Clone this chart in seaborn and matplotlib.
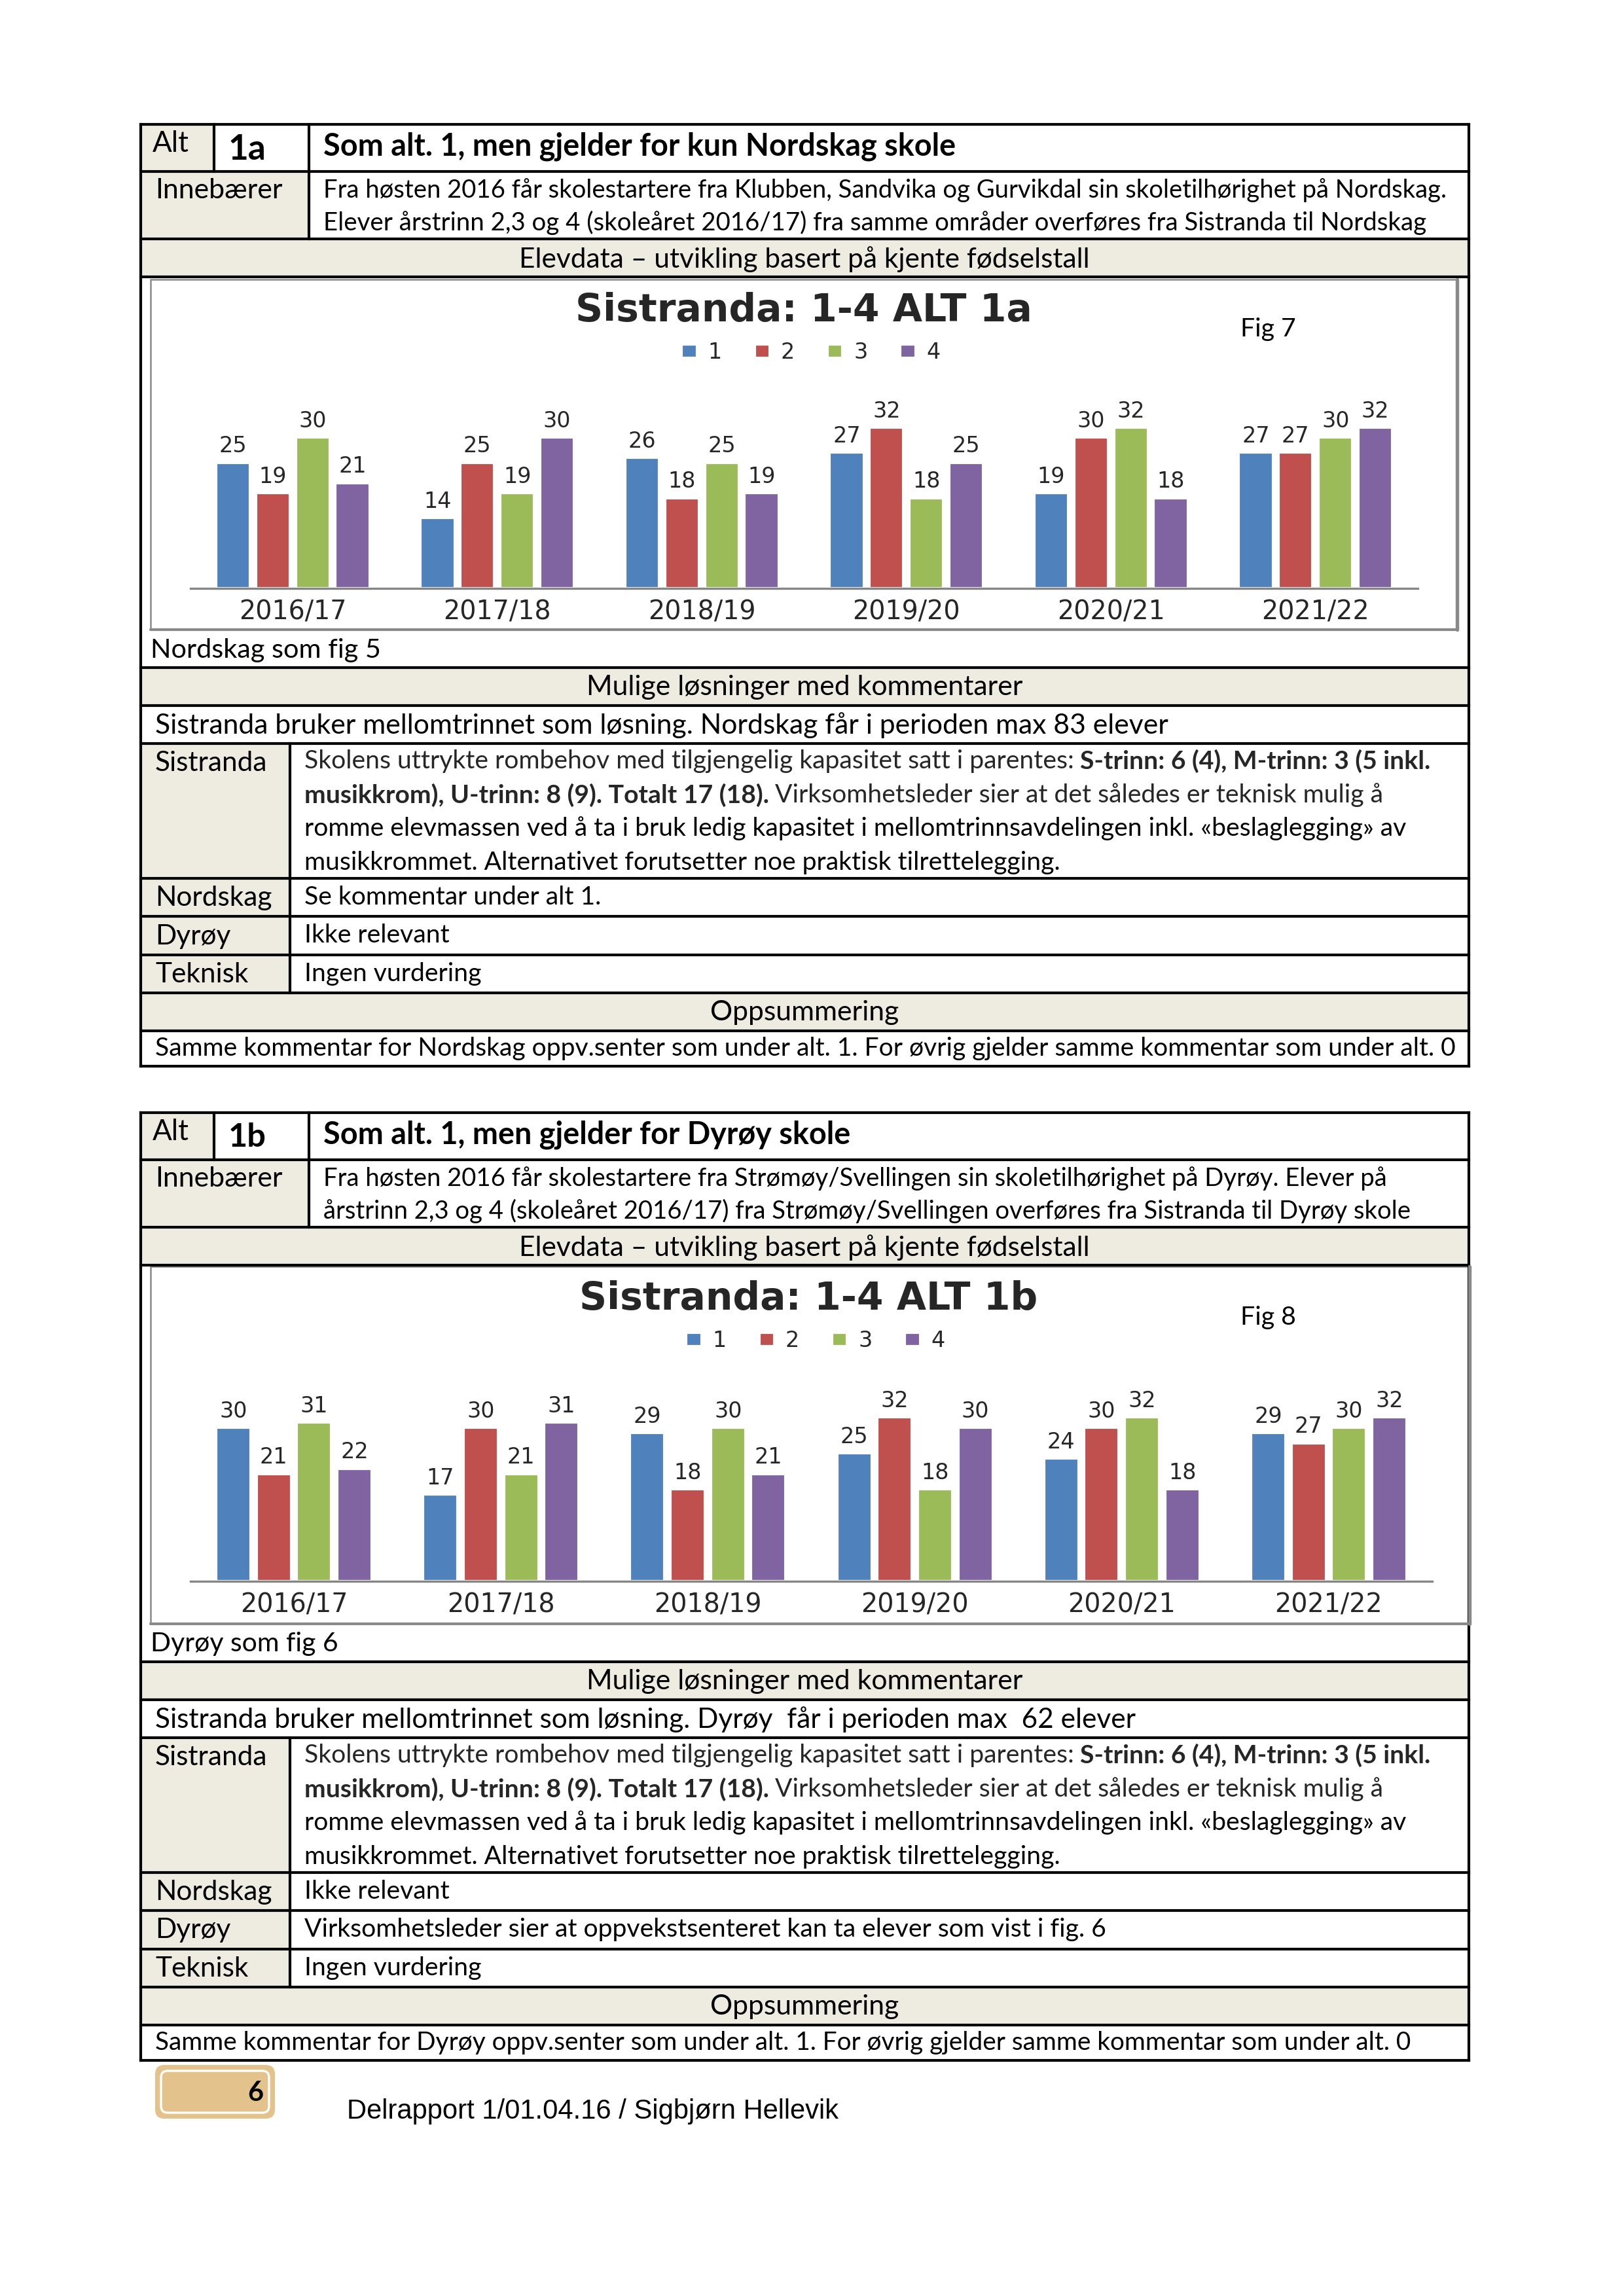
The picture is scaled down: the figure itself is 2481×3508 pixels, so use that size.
import matplotlib
matplotlib.use('Agg')
import matplotlib.pyplot as plt
from matplotlib.patches import Rectangle, FancyBboxPatch
import pandas as pd
import seaborn as sns

# skoleår og trinn
years = ['2016/17', '2017/18', '2018/19', '2019/20', '2020/21', '2021/22']
trinn = ['1', '2', '3', '4']

# Fig 7 - Sistranda 1-4 ALT 1a
a_t1 = [25, 14, 26, 27, 19, 27]
a_t2 = [19, 25, 18, 32, 30, 27]
a_t3 = [30, 19, 25, 18, 32, 30]
a_t4 = [21, 30, 19, 25, 18, 32]

# Fig 8 - Sistranda 1-4 ALT 1b
b_t1 = [30, 17, 29, 25, 24, 29]
b_t2 = [21, 30, 18, 32, 30, 27]
b_t3 = [31, 21, 30, 18, 32, 30]
b_t4 = [22, 31, 21, 30, 18, 32]

COLORS = ['#4F81BD', '#C0504D', '#9BBB59', '#8064A2']
SHADE = '#EEECE1'
BOXGREY = '#898989'
BODY = 'Lato'
CHART = 'DejaVu Sans'

W, H, DPI = 2481, 3508, 300
L, R = 215, 2244

sns.set_style('white')
plt.rcParams['font.family'] = ['Lato', 'DejaVu Sans']

fig = plt.figure(figsize=(W / DPI, H / DPI), dpi=DPI)
bg = fig.add_axes([0, 0, 1, 1])
bg.set_xlim(0, W)
bg.set_ylim(H, 0)
bg.axis('off')
rend = fig.canvas.get_renderer()


def txt(x, y, s, size=11, w=None, weight='normal', ha='left', family=BODY):
    t = bg.text(x, y, s, fontsize=size, fontweight=weight, ha=ha, va='center',
                family=family, color='black')
    if w:
        t.set_fontsize(size * w / t.get_window_extent(rend).width)
    return t


def width_of(s, size, weight='normal'):
    t = bg.text(0, 0, s, fontsize=size, fontweight=weight, family=BODY)
    w = t.get_window_extent(rend).width
    t.remove()
    return w


def fit_size(s, w, weight='normal'):
    return 11 * w / width_of(s, 11, weight)


def hline(y, x0=L, x1=R):
    bg.plot([x0, x1], [y, y], color='black', lw=1.0, solid_capstyle='projecting')


def vline(x, y0, y1):
    bg.plot([x, x], [y0, y1], color='black', lw=1.0, solid_capstyle='projecting')


def shade(x0, y0, x1, y1):
    bg.add_patch(Rectangle((x0, y0), x1 - x0, y1 - y0, facecolor=SHADE,
                           edgecolor='none', zorder=0))


def mixed_line(x, y, parts, size):
    for s, weight in parts:
        t = bg.text(x, y, s, fontsize=size, fontweight=weight, ha='left',
                    va='center', family=BODY)
        x += t.get_window_extent(rend).width + 0.23 * size * DPI / 72


def draw_chart(t1, t2, t3, t4, box, axpos, ppu, title, title_xy, figlab, fig_xy, leg_xy):
    x0, y0, x1, y1 = box
    bg.add_patch(Rectangle((x0, y0), x1 - x0, y1 - y0, fill=False,
                           edgecolor=BOXGREY, lw=0.6))
    bg.plot([x1, x1], [y0, y1], color=BOXGREY, lw=1.3)
    bg.plot([x0, x1], [y1, y1], color=BOXGREY, lw=1.0)

    df = pd.DataFrame({
        'skoleår': years * 4,
        'trinn': [t for t in trinn for _ in years],
        'elever': t1 + t2 + t3 + t4,
    })
    left, right, base, top = axpos
    ax = fig.add_axes([left / W, 1 - base / H, (right - left) / W, (base - top) / H])
    ax.patch.set_alpha(0)
    sns.barplot(data=df, x='skoleår', y='elever', hue='trinn', palette=COLORS,
                saturation=1, width=0.78, gap=0.14, ax=ax)
    for c in ax.containers:
        ax.bar_label(c, fmt='%d', padding=2, fontsize=8, family=CHART)
    ax.set_xlim(-0.5, 5.5)
    ax.set_ylim(0, (base - top) / ppu)
    ax.set_xlabel('')
    ax.set_ylabel('')
    ax.set_yticks([])
    for sp in ['left', 'top', 'right']:
        ax.spines[sp].set_visible(False)
    ax.spines['bottom'].set_color('#868686')
    ax.spines['bottom'].set_linewidth(0.8)
    ax.tick_params(axis='x', length=0, pad=4, labelsize=9.5)
    for lab in ax.get_xticklabels():
        lab.set_family(CHART)
    handles, labels = ax.get_legend_handles_labels()
    ax.legend(handles, labels, ncol=4, loc='center', bbox_to_anchor=leg_xy,
              bbox_transform=bg.transData, frameon=False,
              prop={'family': CHART, 'size': 8},
              handlelength=0.7, handleheight=0.6, handletextpad=0.5,
              columnspacing=1.5)

    bg.text(title_xy[0], title_xy[1], title, family=CHART, fontsize=14,
            fontweight='bold', ha='center', va='center')
    txt(fig_xy[0], fig_xy[1], figlab, w=85)


def draw_block(r, alt, title, title_w, inneb, caption, cap_w, bruker, bruker_w,
               nordskag, dyroy, samme, samme_w):
    # skraverte celler
    shade(L, r[0], 327, r[1])
    shade(L, r[1], 472, r[2])
    shade(L, r[2], R, r[3])
    shade(L, r[5], R, r[6])
    shade(L, r[7], 443, r[11])
    shade(L, r[11], R, r[12])

    for i in [0, 1, 2, 3, 5, 6, 7, 8, 9, 10, 11, 12, 13]:
        hline(r[i])
    vline(L, r[0], r[13])
    vline(R, r[0], r[13])
    vline(327, r[0], r[1])
    vline(472, r[0], r[2])
    vline(443, r[7], r[11])

    txt(233, r[0] + 29, 'Alt', w=56)
    txt(349, r[0] + 38, alt, w=58, weight='bold')
    txt(494, r[0] + 34, title, w=title_w, weight='bold')

    txt(237, r[1] + 29, 'Innebærer', w=195)
    txt(494, r[1] + 29, inneb[0][0], w=inneb[0][1])
    txt(494, r[1] + 78, inneb[1][0], w=inneb[1][1])

    txt(1229, (r[2] + r[3]) / 2 + 2, 'Elevdata – utvikling basert på kjente fødselstall', w=873, ha='center')
    txt(230, r[5] - 27, caption, w=cap_w)
    txt(1229, (r[5] + r[6]) / 2 + 1, 'Mulige løsninger med kommentarer', w=669, ha='center')
    txt(237, (r[6] + r[7]) / 2 + 1, bruker, w=bruker_w)

    lab_size = fit_size('Sistranda', 172)
    txt(237, r[7] + 30, 'Sistranda', size=lab_size)
    txt(237, (r[8] + r[9]) / 2 + 1, 'Nordskag', size=lab_size)
    txt(237, (r[9] + r[10]) / 2 + 1, 'Dyrøy', size=lab_size)
    txt(237, (r[10] + r[11]) / 2 + 1, 'Teknisk', size=lab_size)

    body = fit_size('romme elevmassen ved å ta i bruk ledig kapasitet i mellomtrinnsavdelingen '
                    'inkl. «beslaglegging» av', 1687)
    mixed_line(465, r[7] + 27, [('Skolens uttrykte rombehov med tilgjengelig kapasitet satt i parentes:', 'normal'),
                                ('S-trinn: 6 (4), M-trinn: 3 (5 inkl.', 'bold')], body)
    mixed_line(465, r[7] + 79, [('musikkrom), U-trinn: 8 (9). Totalt 17 (18).', 'bold'),
                                ('Virksomhetsleder sier at det således er teknisk mulig å', 'normal')], body)
    txt(465, r[7] + 130, 'romme elevmassen ved å ta i bruk ledig kapasitet i mellomtrinnsavdelingen '
                         'inkl. «beslaglegging» av', size=body)
    txt(465, r[7] + 182, 'musikkrommet. Alternativet forutsetter noe praktisk tilrettelegging.', size=body)
    txt(465, (r[8] + r[9]) / 2, nordskag, size=body)
    txt(465, (r[9] + r[10]) / 2, dyroy, size=body)
    txt(465, (r[10] + r[11]) / 2, 'Ingen vurdering', size=body)

    txt(1229, (r[11] + r[12]) / 2 + 1, 'Oppsummering', w=289, ha='center')
    txt(237, (r[12] + r[13]) / 2, samme, w=samme_w)


# ---------- alt 1a ----------
rows_a = [190, 262, 365, 423, 966, 1020, 1078, 1136, 1342, 1400, 1459, 1517, 1575, 1629]
draw_block(rows_a, '1a', 'Som alt. 1, men gjelder for kun Nordskag skole', 967,
           [('Fra høsten 2016 får skolestartere fra Klubben, Sandvika og Gurvikdal sin skoletilhørighet på Nordskag.', 1721),
            ('Elever årstrinn 2,3 og 4 (skoleåret 2016/17) fra samme områder overføres fra Sistranda til Nordskag', 1687)],
           'Nordskag som fig 5', 352,
           'Sistranda bruker mellomtrinnet som løsning. Nordskag får i perioden max 83 elever', 1550,
           'Se kommentar under alt 1.', 'Ikke relevant',
           'Samme kommentar for Nordskag oppv.senter som under alt. 1. For øvrig gjelder samme kommentar som under alt. 0', 1989)
draw_chart(a_t1, a_t2, a_t3, a_t4, (230, 427, 2226, 962), (291, 2166, 899, 600), 7.69,
           'Sistranda: 1-4 ALT 1a', (1228, 474), 'Fig 7', (1895, 503), (1239, 539))

# ---------- alt 1b ----------
rows_b = [1700, 1772, 1875, 1933, 2483, 2539, 2597, 2655, 2861, 2919, 2978, 3036, 3094, 3148]
draw_block(rows_b, '1b', 'Som alt. 1, men gjelder for Dyrøy skole', 806,
           [('Fra høsten 2016 får skolestartere fra Strømøy/Svellingen sin skoletilhørighet på Dyrøy. Elever på', 1627),
            ('årstrinn 2,3 og 4 (skoleåret 2016/17) fra Strømøy/Svellingen overføres fra Sistranda til Dyrøy skole', 1663)],
           'Dyrøy som fig 6', 287,
           'Sistranda bruker mellomtrinnet som løsning. Dyrøy  får i perioden max  62 elever', 1501,
           'Ikke relevant', 'Virksomhetsleder sier at oppvekstsenteret kan ta elever som vist i fig. 6',
           'Samme kommentar for Dyrøy oppv.senter som under alt. 1. For øvrig gjelder samme kommentar som under alt. 0', 1920)
draw_chart(b_t1, b_t2, b_t3, b_t4, (230, 1935, 2245, 2481), (291, 2188, 2416, 2117), 7.83,
           'Sistranda: 1-4 ALT 1b', (1235, 1984), 'Fig 8', (1895, 2013), (1246, 2049))

# ---------- bunntekst ----------
bg.add_patch(FancyBboxPatch((237, 3155), 183, 82, boxstyle='round,pad=0,rounding_size=14',
                            facecolor='#E4C28C', edgecolor='none'))
bg.add_patch(FancyBboxPatch((246, 3164), 165, 64, boxstyle='round,pad=0,rounding_size=10',
                            facecolor='#E4C28C', edgecolor='white', lw=0.8))
txt(402, 3198, '6', size=10, weight='bold', ha='right')
txt(530, 3226, 'Delrapport 1/01.04.16 / Sigbjørn Hellevik', w=754, family='Liberation Sans')

fig.savefig('out.png', dpi=DPI)
